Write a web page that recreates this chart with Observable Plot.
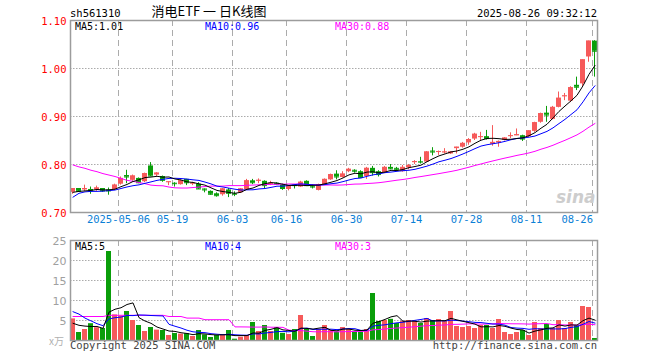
<!DOCTYPE html>
<html><head><meta charset="utf-8">
<script src="https://cdn.jsdelivr.net/npm/d3@7"></script>
<script src="https://cdn.jsdelivr.net/npm/@observablehq/plot@0.6"></script>
<style>
body{margin:0;background:#fff;}
#wrap{position:relative;width:660px;height:360px;overflow:hidden;background:#fff;}
#wrap > svg{position:absolute;left:0;}
</style></head><body><div id="wrap"></div>
<script>
const dates = [
"2025-04-21","2025-04-22","2025-04-23","2025-04-24","2025-04-25","2025-04-28","2025-04-29","2025-04-30",
"2025-05-06","2025-05-07","2025-05-08","2025-05-09","2025-05-12","2025-05-13","2025-05-14","2025-05-15","2025-05-16",
"2025-05-19","2025-05-20","2025-05-21","2025-05-22","2025-05-23","2025-05-26","2025-05-27","2025-05-28","2025-05-29","2025-05-30",
"2025-06-03","2025-06-04","2025-06-05","2025-06-06","2025-06-09","2025-06-10","2025-06-11","2025-06-12","2025-06-13",
"2025-06-16","2025-06-17","2025-06-18","2025-06-19","2025-06-20","2025-06-23","2025-06-24","2025-06-25","2025-06-26","2025-06-27",
"2025-06-30","2025-07-01","2025-07-02","2025-07-03","2025-07-04","2025-07-07","2025-07-08","2025-07-09","2025-07-10","2025-07-11",
"2025-07-14","2025-07-15","2025-07-16","2025-07-17","2025-07-18","2025-07-21","2025-07-22","2025-07-23","2025-07-24","2025-07-25",
"2025-07-28","2025-07-29","2025-07-30","2025-07-31","2025-08-01","2025-08-04","2025-08-05","2025-08-06","2025-08-07","2025-08-08",
"2025-08-11","2025-08-12","2025-08-13","2025-08-14","2025-08-15","2025-08-18","2025-08-19","2025-08-20","2025-08-21","2025-08-22",
"2025-08-25","2025-08-26"];

const open = [
.742,.750,.747,.748,.747,.750,.747,.748,.759,.777,
.767,.771,.764,.797,.778,.775,.763,.761,.758,.769,
.760,.759,.749,.744,.739,.737,.747,.739,.741,.747,
.766,.766,.765,.759,.761,.757,.748,.757,.753,.765,
.755,.746,.758,.768,.780,.773,.785,.788,.785,.775,
.792,.785,.783,.794,.792,.785,.793,.804,.806,.805,
.828,.826,.825,.822,.833,.836,.845,.853,.857,.858,
.842,.845,.850,.859,.860,.860,.858,.869,.888,.907,
.894,.919,.942,.932,.965,.968,1.024,1.057];
const high = [
.750,.750,.757,.753,.755,.750,.751,.759,.774,.788,
.778,.772,.782,.804,.783,.776,.764,.762,.768,.769,
.763,.762,.749,.745,.741,.750,.750,.743,.750,.769,
.769,.770,.766,.765,.762,.759,.756,.757,.765,.766,
.758,.759,.770,.780,.787,.785,.792,.789,.787,.794,
.796,.787,.796,.800,.794,.798,.800,.808,.815,.827,
.835,.828,.833,.827,.836,.846,.854,.865,.867,.871,
.881,.849,.856,.866,.874,.861,.870,.888,.907,.921,
.921,.951,.948,.962,.982,1.018,1.057,1.058];
const low = [
.738,.743,.744,.738,.744,.742,.736,.746,.757,.760,
.765,.760,.762,.775,.775,.763,.756,.753,.757,.756,
.756,.748,.741,.736,.732,.734,.731,.733,.740,.746,
.758,.760,.750,.756,.757,.746,.745,.749,.752,.755,
.749,.745,.757,.767,.768,.772,.783,.782,.772,.769,
.776,.774,.782,.789,.787,.784,.789,.800,.801,.804,
.818,.819,.822,.821,.822,.834,.840,.850,.850,.851,
.838,.836,.849,.854,.860,.848,.856,.867,.886,.888,
.893,.918,.933,.929,.954,.961,1.013,.982];
const close = [
.750,.744,.750,.745,.751,.745,.745,.757,.771,.774,
.776,.762,.781,.776,.782,.767,.764,.760,.766,.762,
.761,.749,.747,.738,.735,.749,.740,.738,.749,.766,
.762,.767,.756,.761,.759,.750,.755,.756,.763,.756,
.753,.758,.769,.779,.774,.780,.790,.786,.773,.792,
.783,.779,.794,.791,.790,.794,.798,.806,.805,.826,
.826,.827,.826,.826,.836,.844,.852,.863,.858,.854,
.846,.848,.855,.860,.862,.853,.870,.887,.906,.903,
.919,.938,.943,.960,.961,1.018,1.057,1.036];
// volume, 万
const volume = [
5.4,2.0,2.75,4.2,3.2,3.0,22.25,6.4,6.1,7.25,
5.0,3.75,2.25,3.25,2.6,2.5,1.25,1.75,1.6,1.7,
1.0,2.5,1.4,0.75,1.25,1.25,2.5,0.33,0.83,1.25,
4.5,2.25,3.75,2.25,3.25,1.8,1.5,2.75,6.25,2.75,
1.0,2.75,3.75,2.5,2.1,3.25,2.75,2.25,2.1,2.75,
11.75,4.75,5.0,5.3,4.25,4.75,5.0,4.75,4.25,5.5,
5.0,5.25,4.75,7.25,3.5,3.25,3.5,3.0,3.75,3.75,
3.0,5.25,2.0,1.5,2.0,2.5,1.25,4.5,3.0,4.0,
3.0,5.0,3.0,4.5,3.75,8.5,8.25,0.5];
// moving-average lines
const ma5 = [
.742,.744,.745,.746,
.748,.747,.7472,.7486,.7538,.7584,.7646,.768,.7728,.7738,
.7754,.7736,.774,.7698,.7678,.7638,.7626,.7596,.757,.7514,
.746,.7436,.7418,.740,.7422,.7484,.751,.7564,.760,.7624,
.7612,.7588,.7564,.7564,.7568,.756,.7566,.7572,.7598,.763,
.7666,.772,.7784,.7818,.7806,.7842,.7848,.7826,.7842,.7878,
.7874,.7896,.7934,.7958,.7986,.8058,.8122,.818,.822,.8262,
.8282,.8318,.8368,.8442,.8506,.8542,.8546,.8538,.8522,.8526,
.8542,.8556,.860,.8664,.8756,.8838,.897,.9106,.9218,.9326,
.9442,.964,.9878,1.0064];
const ma10 = [
.732,.740,.743,.744,.744,.7445,.7456,.7468,.750,
.7532,.7558,.7576,.7607,.7638,.7669,.7691,.771,.7713,.7708,
.7696,.7681,.7668,.7634,.7596,.7549,.7531,.7507,.7485,.7468,
.7472,.7473,.7491,.750,.7523,.7548,.7549,.7564,.7582,.7596,
.7586,.7577,.7568,.7581,.7599,.7613,.7643,.7678,.7708,.7718,
.7754,.7784,.7805,.783,.7842,.7858,.7872,.788,.790,.7932,
.7966,.8009,.8057,.8089,.8124,.817,.822,.8274,.8331,.8384,
.8412,.8432,.8453,.8482,.8516,.8542,.8551,.8569,.8593,.8641,
.869,.8763,.8853,.8941,.9041,.914,.9305,.9492,.9641];
const ma30 = [
.799,.795,.792,.788,.785,.781,.778,.775,.771,.767,
.765,.7625,.760,.757,.756,.7556,.753,.7514,.751,.751,
.752,.753,.754,.755,.755,.755,.756,.756,.756,
.7567,.7571,.7578,.758,.7586,.7589,.759,.7594,.7593,.7591,
.7585,.7577,.7576,.7572,.7573,.757,.7574,.7583,.7592,.7594,
.7604,.7611,.7621,.7637,.7655,.7673,.7688,.7707,.773,.7749,
.7769,.779,.781,.7833,.7855,.788,.7912,.7944,.798,.8011,
.8044,.8075,.8105,.8134,.8161,.819,.8214,.8241,.8275,.8319,
.8356,.8401,.8454,.8504,.856,.8617,.8692,.8778,.8855];
const vma5 = [
4.3,3.8,3.6,3.5,
3.51,3.03,7.08,7.81,8.19,9.0,9.4,5.7,4.87,4.3,
3.37,2.87,2.37,2.27,1.94,1.76,1.46,1.71,1.64,1.47,
1.38,1.43,1.43,1.22,1.23,1.23,1.88,1.83,2.52,2.8,
3.2,2.66,2.51,2.31,3.11,3.01,2.85,3.1,3.3,2.55,
2.42,2.87,2.87,2.57,2.49,2.62,4.32,4.72,5.27,5.91,
6.21,4.81,4.86,4.81,4.6,4.85,4.9,4.95,4.95,5.55,
5.15,4.8,4.45,4.1,3.4,3.45,3.4,3.75,3.55,3.1,
2.75,2.65,1.85,2.35,2.65,3.05,3.15,3.9,3.6,3.9,
3.85,4.95,5.6,5.1];
const vma10 = [
7.2,6.6,5.6,4.9,4.2,3.7,5.4,5.7,5.85,
6.26,6.22,6.39,6.34,6.25,6.19,6.14,4.04,3.57,3.12,
2.57,2.17,2.04,1.96,1.71,1.57,1.45,1.57,1.43,1.35,
1.31,1.66,1.63,1.87,2.02,2.22,2.27,2.17,2.41,2.96,
3.11,2.76,2.81,2.81,2.83,2.72,2.86,2.99,2.94,2.52,
2.52,3.6,3.8,3.92,4.2,4.42,4.57,4.79,5.04,5.26,
5.53,4.86,4.91,4.88,5.08,5.0,4.85,4.7,4.53,4.48,
4.3,4.1,4.1,3.83,3.25,3.1,3.03,2.8,2.95,2.88,
2.9,2.9,2.88,2.98,3.28,3.45,4.05,4.75,4.35];
const vma30 = [
6.0,6.0,6.0,6.0,6.0,6.0,6.3,6.3,6.3,6.3,
6.3,6.3,6.3,6.3,6.3,6.3,6.0,6.0,6.0,5.6,
5.6,5.6,5.2,5.2,5.2,5.2,5.2,3.4,3.4,
3.38,3.35,3.35,3.39,3.32,3.32,3.28,2.59,2.47,2.48,
2.33,2.19,2.16,2.21,2.18,2.17,2.19,2.24,2.26,2.28,
2.31,2.67,2.74,2.86,3.02,3.12,3.23,3.32,3.46,3.58,
3.72,3.74,3.84,3.87,4.04,4.04,4.09,4.16,4.17,4.08,
4.12,4.18,4.27,4.21,4.18,4.17,4.15,4.1,4.17,4.2,
4.24,3.95,3.96,3.89,3.87,3.85,3.98,4.08,3.94];

const tickDates = ["2025-05-06","2025-05-19","2025-06-03","2025-06-16","2025-06-30","2025-07-14","2025-07-28","2025-08-11","2025-08-26"];
const tickLabels = ["2025-05-06","05-19","06-03","06-16","06-30","07-14","07-28","08-11","08-26"];
const priceTicks = [0.70, 0.80, 0.90, 1.00, 1.10];
const priceGrid = [0.80, 0.90, 1.00];
const volTicks = [5, 10, 15, 20, 25];
const volGrid = [5, 10, 15, 20];

const RED = "#f65a5a", GREEN = "#0a9e0a", GRID = "#ababab", FRAME = "#9c9c9c", AXISBLUE = "#0b80d6";
const MONO = "DejaVu Sans Mono, monospace";

const rows = dates.map((d, i) => ({
  d, o: open[i], h: high[i], l: low[i], c: close[i], v: volume[i],
  ma5: ma5[i], ma10: ma10[i], ma30: ma30[i], vma5: vma5[i], vma10: vma10[i], vma30: vma30[i],
  up: close[i] >= open[i]
}));
const col = r => r.up ? RED : GREEN;
const xOpt = {type: "band", domain: dates, paddingInner: 1/6, paddingOuter: 0, align: 0, axis: null};
const labelOf = d => tickLabels[tickDates.indexOf(d)];

const topChart = Plot.plot({
  width: 660, height: 236, marginLeft: 70, marginRight: 63, marginTop: 20, marginBottom: 24,
  style: {background: "transparent", overflow: "visible"},
  x: xOpt,
  y: {domain: [0.70, 1.10], axis: null},
  marks: [
    Plot.ruleY(priceGrid, {stroke: GRID, strokeDasharray: "1.5,1.5"}),
    Plot.ruleX(tickDates, {stroke: GRID, strokeDasharray: "6,4", dx: -2.5}),
    Plot.ruleX(rows, {x: "d", y1: "l", y2: "h", stroke: col, dx: -0.5}),
    Plot.barY(rows, {x: "d", y1: "o", y2: "c", fill: col}),
    Plot.tickY(rows, {x: "d", y: "c", stroke: col}),
    Plot.line(rows, {x: "d", y: "ma30", stroke: "#ff00ff", strokeWidth: 1}),
    Plot.line(rows, {x: "d", y: "ma10", stroke: "#0000ff", strokeWidth: 1}),
    Plot.line(rows, {x: "d", y: "ma5", stroke: "#000000", strokeWidth: 1}),
    Plot.frame({stroke: FRAME, strokeWidth: 1.5}),
    Plot.text(priceTicks, {y: d => d, text: d => d.toFixed(2), frameAnchor: "left", dx: -4, dy: 1, textAnchor: "end", fill: "#ff0000", fontFamily: MONO, fontSize: 10.5}),
    Plot.text(tickDates.slice(0, -1), {x: d => d, text: labelOf, frameAnchor: "bottom", dy: 10, dx: -2.5, fill: AXISBLUE, fontFamily: MONO, fontSize: 10.5}),
    Plot.text(tickDates.slice(-1), {x: d => d, text: labelOf, frameAnchor: "bottom", dy: 10, dx: -2, textAnchor: "end", fill: AXISBLUE, fontFamily: MONO, fontSize: 10.5}),
    Plot.text(["sina"], {frameAnchor: "bottom-right", dx: -2, dy: -10, textAnchor: "end", fill: "#cdcdcd", fontFamily: "DejaVu Sans", fontSize: 17, fontWeight: "bold", fontStyle: "italic"})
  ]
});

const volChart = Plot.plot({
  width: 660, height: 124, marginLeft: 70, marginRight: 63, marginTop: 4, marginBottom: 20,
  style: {background: "transparent", overflow: "visible"},
  x: xOpt,
  y: {domain: [0, 25], axis: null},
  marks: [
    Plot.ruleY(volGrid, {stroke: GRID, strokeDasharray: "1.5,1.5"}),
    Plot.ruleX(tickDates, {stroke: GRID, strokeDasharray: "6,4", dx: -2.5}),
    Plot.barY(rows, {x: "d", y: "v", fill: col}),
    Plot.line(rows, {x: "d", y: "vma30", stroke: "#ff00ff", strokeWidth: 1}),
    Plot.line(rows, {x: "d", y: "vma10", stroke: "#0000ff", strokeWidth: 1}),
    Plot.line(rows, {x: "d", y: "vma5", stroke: "#000000", strokeWidth: 1}),
    Plot.frame({stroke: FRAME, strokeWidth: 1.5}),
    Plot.text(volTicks, {y: d => d, text: d => String(d), frameAnchor: "left", dx: -4, dy: 1, textAnchor: "end", fill: "#a0a0a0", fontFamily: "DejaVu Sans", fontSize: 11})
  ]
});

const wrap = document.getElementById("wrap");
topChart.style.top = "0px";
volChart.style.top = "236px";
wrap.appendChild(topChart);
wrap.appendChild(volChart);

// header, legend and footer texts
const ov = d3.select(wrap).append("svg").attr("width", 660).attr("height", 360)
  .style("position", "absolute").style("top", "0px").style("left", "0px");
const texts = [
  {x: 70, y: 17, s: "sh561310", f: "#000", a: "start"},
  {x: 209, y: 16, s: "消电ETF 一 日K线图", f: "#000", a: "middle", ff: "Noto Sans CJK SC", fs: 13},
  {x: 597, y: 17, s: "2025-08-26 09:32:12", f: "#000", a: "end"},
  {x: 75, y: 30, s: "MA5:1.01", f: "#000", a: "start", fs: 10},
  {x: 205, y: 30, s: "MA10:0.96", f: "#0000ff", a: "start", fs: 10},
  {x: 335, y: 30, s: "MA30:0.88", f: "#ff00ff", a: "start", fs: 10},
  {x: 75, y: 250, s: "MA5:5", f: "#000", a: "start", fs: 10},
  {x: 205, y: 250, s: "MA10:4", f: "#0000ff", a: "start", fs: 10},
  {x: 335, y: 250, s: "MA30:3", f: "#ff00ff", a: "start", fs: 10},
  {x: 70, y: 349, s: "Copyright 2025 SINA.COM", f: "#444", a: "start"},
  {x: 597, y: 349, s: "http://finance.sina.com.cn", f: "#444", a: "end"},
  {x: 64, y: 345, s: "x万", f: "#b0b0b0", a: "end", ff: "Noto Sans CJK SC", fs: 10}
];
ov.selectAll("text").data(texts).join("text")
  .attr("x", d => d.x).attr("y", d => d.y).attr("text-anchor", d => d.a)
  .attr("fill", d => d.f).attr("font-family", d => d.ff || MONO).attr("font-size", d => d.fs || 10.5)
  .attr("xml:space", "preserve").style("white-space", "pre")
  .text(d => d.s);

const lens = [open, high, low, close, volume, ma5, ma10, ma30, vma5, vma10, vma30].map(a => a.length);
if (lens.some(n => n !== dates.length)) {
  ov.append("text").attr("x", 300).attr("y", 120).attr("fill", "red").text("LEN " + dates.length + " " + lens.join(","));
}
</script>
</body></html>
